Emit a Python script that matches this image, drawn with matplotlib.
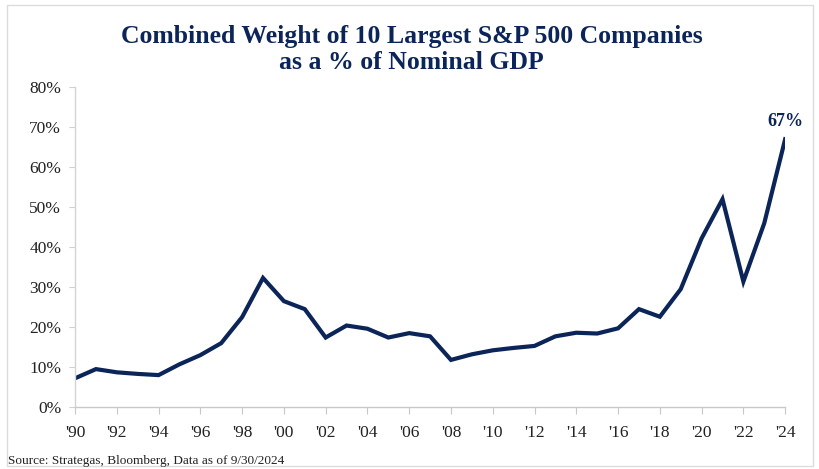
import matplotlib.pyplot as plt
from matplotlib.patches import Rectangle

# Combined weight of top 10 S&P 500 names as % of nominal GDP
years = list(range(1990, 2025))
weight = [7.2, 9.5, 8.7, 8.3, 8.0, 10.7, 13.0, 16.0, 22.5, 32.3,
          26.5, 24.5, 17.4, 20.4, 19.6, 17.4, 18.5, 17.7, 11.8, 13.2,
          14.2, 14.8, 15.3, 17.7, 18.6, 18.4, 19.7, 24.5, 22.6, 29.5,
          42.2, 52.0, 31.4, 46.0, 67.0]
xtick_years = list(range(1990, 2025, 2))
xtick_labels = ["'{:02d}".format(y % 100) for y in xtick_years]
ytick_vals = list(range(0, 81, 10))
ytick_labels = ["{}%".format(v) for v in ytick_vals]

navy = '#0b2559'
serif = ['Liberation Serif', 'DejaVu Serif']

fig = plt.figure(figsize=(8.2, 4.69), dpi=100)
ax = fig.add_axes([0.0915, 0.132, 0.866, 0.682])

ax.plot(years, weight, color=navy, lw=3.0, solid_joinstyle='miter')
ax.text(years[-1], weight[-1] + 2.2, "{:.0f}%".format(weight[-1]),
        ha='center', va='bottom', fontsize=13, fontweight='bold',
        color=navy, family=serif)

ax.set_xlim(1990, 2024)
ax.set_ylim(0, 80)
ax.set_xticks(xtick_years)
ax.set_xticklabels(xtick_labels, family=serif, fontsize=12.5, color='#222222')
ax.set_yticks(ytick_vals)
ax.set_yticklabels(ytick_labels, family=serif, fontsize=12.5, color='#222222')
ax.tick_params(axis='x', direction='out', length=5, color='#c8c8c8', pad=8)
ax.tick_params(axis='y', direction='out', length=4, color='#d0d0d0', pad=6)

for side in ['top', 'right']:
    ax.spines[side].set_visible(False)
ax.spines['left'].set_color('#d4d4d4')
ax.spines['bottom'].set_color('#c8c8c8')
ax.spines['left'].set_linewidth(1.0)
ax.spines['bottom'].set_linewidth(1.0)

fig.text(0.502, 0.894, "Combined Weight of 10 Largest S&P 500 Companies\nas a % of Nominal GDP",
         ha='center', va='center', fontsize=18.5, fontweight='bold', color=navy,
         family=serif, linespacing=1.15)
fig.text(0.01, 0.018, "Source: Strategas, Bloomberg, Data as of 9/30/2024",
         ha='left', va='center', fontsize=9.5, color='#222222', family=serif)

# thin frame around the whole picture
fig.patches.append(Rectangle((0.008, 0.006), 0.984, 0.983, transform=fig.transFigure,
                             fill=False, edgecolor='#dcdcdc', lw=1.0))

fig.savefig("out.png", dpi=100)
